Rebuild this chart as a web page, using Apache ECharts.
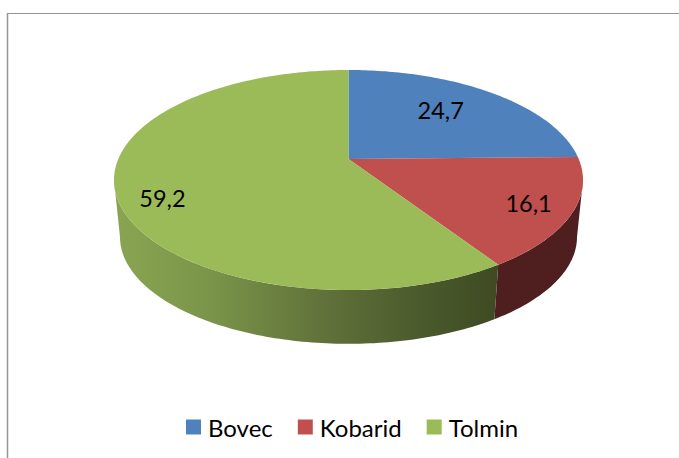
<!DOCTYPE html>
<html>
<head>
<meta charset="utf-8">
<style>
  html, body { margin: 0; padding: 0; background: #fff; }
  #chart { width: 679px; height: 458px; }
</style>
<script src="https://cdn.jsdelivr.net/npm/echarts@6/dist/echarts.min.js"></script>
</head>
<body>
<div id="chart"></div>
<script>
var categories = ['Bovec', 'Kobarid', 'Tolmin'];
var values = [24.7, 16.1, 59.2];
var valueLabels = ['24,7', '16,1', '59,2'];

(function() {
  var topColors = ['#4f81bd', '#c0504d', '#9bbb59'];
  var wallColors = [
    '#2a4566',
    '#4f1f1f',
    new echarts.graphic.LinearGradient(0, 0, 1, 0, [
      { offset: 0, color: '#8aa551' },
      { offset: 0.25, color: '#7a9549' },
      { offset: 0.55, color: '#60713a' },
      { offset: 0.8, color: '#4a5a2c' },
      { offset: 1, color: '#3f4a23' }
    ])
  ];
  // where each label sits on the disc: fraction of radius, degrees off the slice middle
  var labelRadius = [0.67, 0.82, 0.83];
  var labelShift = [-3.5, 0, -8];

  // disc is a circle seen in perspective, so the apex is above the ellipse centre
  var tilt = 0.191;
  var topFace = { x: 348.5, y: 159, a: 230.2, b: 106 };
  var baseFace = { x: 348.5, y: 216.5, a: 224.3, b: 103 };
  var wallFrom = 101;
  var wallTo = 259;

  var total = values.reduce(function(s, v) { return s + v; }, 0);

  function project(face, deg, r) {
    var t = deg * Math.PI / 180;
    var px = r * Math.sin(t);
    var py = r * Math.cos(t);
    var w = 1 + tilt * py;
    return [face.x + face.a * px / w, face.y - face.b * py / w];
  }

  function arc(face, from, to) {
    var pts = [];
    var n = Math.max(2, Math.ceil(Math.abs(to - from)));
    for (var i = 0; i <= n; i++) {
      pts.push(project(face, from + (to - from) * i / n, 1));
    }
    return pts;
  }

  function renderSlice(params, api) {
    var idx = params.seriesIndex;
    var from = api.value(0) / total * 360;
    var to = from + api.value(1) / total * 360;
    var children = [];

    var wa = Math.max(from, wallFrom);
    var wb = Math.min(to, wallTo);
    if (wb > wa) {
      children.push({
        type: 'polygon',
        shape: { points: arc(topFace, wa, wb).concat(arc(baseFace, wb, wa)) },
        style: { fill: wallColors[idx] }
      });
    }

    children.push({
      type: 'polygon',
      shape: { points: [project(topFace, 0, 0)].concat(arc(topFace, from, to)) },
      style: { fill: topColors[idx] }
    });

    var pos = project(topFace, (from + to) / 2 + labelShift[idx], labelRadius[idx]);
    children.push({
      type: 'text',
      z2: 10,
      style: {
        x: pos[0],
        y: pos[1],
        text: valueLabels[idx],
        fill: '#000',
        font: '23.5px Lato',
        align: 'center',
        verticalAlign: 'middle'
      }
    });

    return { type: 'group', children: children };
  }

  var series = categories.map(function(name, i) {
    var before = 0;
    for (var j = 0; j < i; j++) before += values[j];
    return {
      type: 'custom',
      name: name,
      coordinateSystem: 'none',
      renderItem: renderSlice,
      itemStyle: { color: topColors[i] },
      data: [[before, values[i]]]
    };
  });

  var chart = echarts.init(document.getElementById('chart'), null, { renderer: 'svg' });
  chart.setOption({
    animation: false,
    backgroundColor: '#fff',
    legend: {
      data: categories,
      left: 186,
      top: 415,
      padding: 0,
      icon: 'rect',
      itemWidth: 15,
      itemHeight: 15,
      itemGap: 25,
      textStyle: { color: '#000', fontFamily: 'Lato', fontSize: 24, padding: [0, 0, 0, 2] }
    },
    graphic: [
      { type: 'line', shape: { x1: 7.5, y1: 13, x2: 7.5, y2: 458 }, style: { stroke: '#969696', lineWidth: 1.5 } },
      { type: 'line', shape: { x1: 7, y1: 13.5, x2: 679, y2: 13.5 }, style: { stroke: '#969696', lineWidth: 1 } }
    ],
    series: series
  });
  window.addEventListener('resize', function() { chart.resize(); });
})();
</script>
</body>
</html>
